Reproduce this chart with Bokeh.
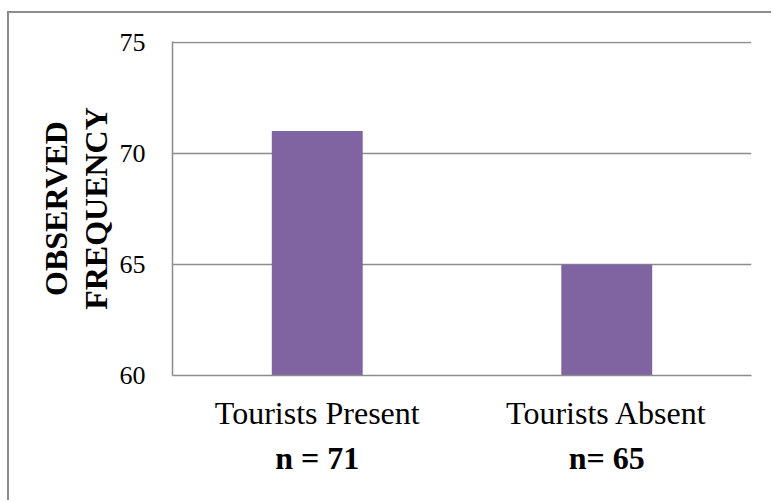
from bokeh.plotting import figure
from bokeh.models import CategoricalAxis, Title, FixedTicker, FactorRange, Range1d
from bokeh.embed import file_html
from bokeh.resources import INLINE

# Observed frequencies per condition
categories = ["Tourists Present", "Tourists Absent"]
frequencies = [71, 65]
sample_sizes = ["n = 71", "n= 65"]
y_ticks = [60, 65, 70, 75]

GRAY = "#8c8c8c"
FONT = "Liberation Serif"

p = figure(
    x_range=categories,
    y_range=Range1d(y_ticks[0], y_ticks[-1] + 0.03),
    width=764,
    height=489,
    output_backend="svg",
    toolbar_location=None,
    margin=(11, 0, 0, 7),
    min_border_left=163,
    min_border_right=22,
    min_border_top=28,
    min_border_bottom=127,
)
p.styles = {"border-top": f"2px solid {GRAY}", "border-left": f"2px solid {GRAY}"}

p.vbar(x=categories, top=frequencies, bottom=y_ticks[0], width=0.314,
       fill_color="#8064A2", line_color=None)

p.outline_line_color = None
p.background_fill_color = "white"
p.border_fill_color = "white"

# grid
p.xgrid.grid_line_color = None
p.ygrid.ticker = FixedTicker(ticks=y_ticks)
p.ygrid.grid_line_color = GRAY
p.ygrid.grid_line_width = 1.5

# y axis
p.yaxis.ticker = FixedTicker(ticks=y_ticks)
p.yaxis.axis_line_color = GRAY
p.yaxis.axis_line_width = 1.5
p.yaxis.major_tick_line_color = None
p.yaxis.minor_tick_line_color = None
p.yaxis.major_label_text_font = FONT
p.yaxis.major_label_text_font_size = "26px"
p.yaxis.major_label_text_color = "black"
p.yaxis.major_label_standoff = 21

# x axis: category names
p.xaxis.axis_line_color = GRAY
p.xaxis.axis_line_width = 1.5
p.xaxis.major_tick_line_color = None
p.xaxis.major_label_text_font = FONT
p.xaxis.major_label_text_font_size = "32px"
p.xaxis.major_label_text_color = "black"
p.xaxis.major_label_standoff = 13

# second row of category labels: sample sizes in bold
p.extra_x_ranges = {"n": FactorRange(factors=sample_sizes)}
n_axis = CategoricalAxis(
    x_range_name="n",
    axis_line_color=None,
    major_tick_line_color=None,
    major_label_text_font=FONT,
    major_label_text_font_size="32px",
    major_label_text_font_style="bold",
    major_label_text_color="black",
    major_label_standoff=0,
)
p.add_layout(n_axis, "below")

# two-line y axis title
for line, gap in [("FREQUENCY", 5), ("OBSERVED", 0)]:
    p.add_layout(Title(text=line, align="center", text_font=FONT,
                       text_font_size="32px", text_font_style="bold",
                       text_color="black", standoff=gap), "left")

open("out.html", "w").write(file_html(p, INLINE))
